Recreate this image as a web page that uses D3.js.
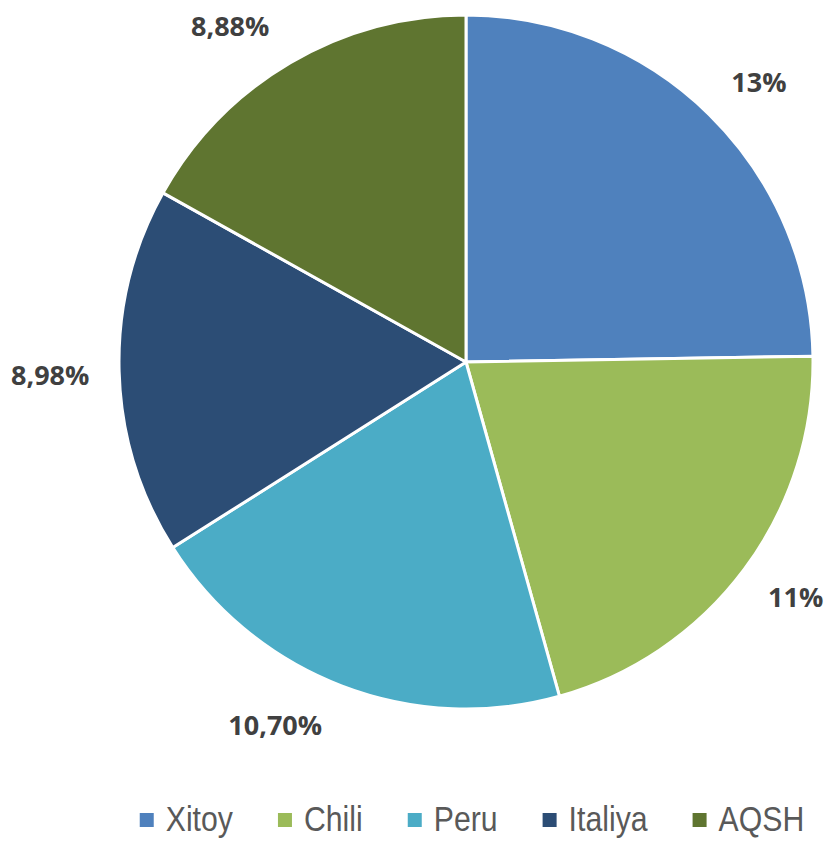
<!DOCTYPE html>
<html><head><meta charset="utf-8">
<script src="https://cdn.jsdelivr.net/npm/d3@7"></script>
<style>html,body{margin:0;padding:0;background:#fff;}</style>
</head><body>
<svg id="chart" width="826" height="841"></svg>
<script>
const categories = ["Xitoy", "Chili", "Peru", "Italiya", "AQSH"];
const values = [13, 11, 10.70, 8.98, 8.88];
const valueLabels = ["13%", "11%", "10,70%", "8,98%", "8,88%"];
const colors = ["#4F81BD", "#9BBB59", "#4BACC6", "#2C4D75", "#5F7530"];

const svg = d3.select("#chart");
const cx = 466, cy = 362, r = 347;
const data = categories.map((c, i) => ({name: c, value: values[i], label: valueLabels[i], color: colors[i]}));
const pie = d3.pie().sort(null).value(d => d.value);
const arcs = pie(data);
const arc = d3.arc().innerRadius(0).outerRadius(r);

const g = svg.append("g").attr("transform", `translate(${cx},${cy})`);
g.selectAll("path").data(arcs).join("path")
  .attr("d", arc)
  .attr("fill", d => d.data.color)
  .attr("stroke", "#fff")
  .attr("stroke-width", 3)
  .attr("stroke-linejoin", "round");

// label layout: outside the pie along the mid angle, with small collision nudges (degrees, px)
const labelNudgeDeg = [1.8, -1.2, 6.7, -0.2, -4.7];
const labelRadius = [405, 405, 410, 416, 410];
g.selectAll("text.lbl").data(arcs).join("text")
  .attr("class", "lbl")
  .attr("transform", (d, i) => {
    const a = (d.startAngle + d.endAngle) / 2 + labelNudgeDeg[i] * Math.PI / 180;
    const rr = labelRadius[i];
    return `translate(${rr * Math.sin(a)},${-rr * Math.cos(a)})`;
  })
  .attr("text-anchor", "middle")
  .attr("dy", "0.36em")
  .attr("font-family", "'Open Sans', sans-serif")
  .attr("font-weight", "bold")
  .attr("font-size", 27)
  .attr("fill", "#404040")
  .text(d => d.data.label);

// legend
const legend = svg.append("g");
const ly = 831;
const sx = 0.84;
let x = 0;
data.forEach((d, i) => {
  const item = legend.append("g");
  item.append("rect").attr("x", x).attr("y", ly - 18).attr("width", 14).attr("height", 14).attr("fill", d.color);
  const t = item.append("text").attr("x", 0).attr("y", 0)
    .attr("transform", `translate(${x + 26},${ly}) scale(${sx},1)`)
    .attr("font-family", "'Liberation Sans', Arial, sans-serif")
    .attr("font-size", 36)
    .attr("fill", "#595959")
    .text(d.name);
  const w = t.node().getComputedTextLength() * sx;
  x = x + 26 + w + 45;
});
const totalW = x - 45;
legend.attr("transform", `translate(${472 - totalW / 2},0)`);
</script>
</body></html>
